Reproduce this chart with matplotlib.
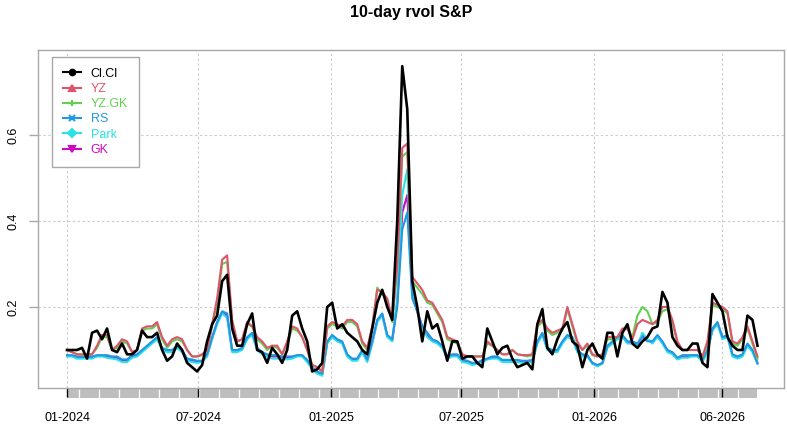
import numpy as np
import matplotlib
matplotlib.use("Agg")
import matplotlib.pyplot as plt
from matplotlib.lines import Line2D
from matplotlib.patches import Rectangle

plt.rcParams['font.family'] = ['Liberation Sans', 'DejaVu Sans']

# weekly samples of the 10-day realized vol estimators
start_date = '2024-01-01'
end_date = '2026-08-17'

cl_cl = [0.10, 0.10, 0.10, 0.105, 0.08, 0.14, 0.145, 0.125, 0.15, 0.10,
         0.095, 0.115, 0.09, 0.09, 0.10, 0.145, 0.13, 0.13, 0.14, 0.10,
         0.075, 0.085, 0.115, 0.10, 0.07, 0.06, 0.05, 0.065, 0.12, 0.16,
         0.18, 0.26, 0.275, 0.15, 0.11, 0.11, 0.16, 0.185, 0.10, 0.095,
         0.07, 0.105, 0.09, 0.07, 0.10, 0.18, 0.19, 0.15, 0.12, 0.05,
         0.055, 0.07, 0.20, 0.21, 0.15, 0.16, 0.14, 0.13, 0.12, 0.10,
         0.09, 0.15, 0.21, 0.24, 0.20, 0.17, 0.40, 0.76, 0.66, 0.26,
         0.20, 0.12, 0.19, 0.15, 0.16, 0.12, 0.075, 0.12, 0.12, 0.08,
         0.085, 0.085, 0.07, 0.06, 0.15, 0.12, 0.09, 0.105, 0.11, 0.08,
         0.06, 0.065, 0.07, 0.055, 0.16, 0.195, 0.105, 0.09, 0.125, 0.15,
         0.165, 0.12, 0.11, 0.06, 0.10, 0.115, 0.09, 0.08, 0.14, 0.14,
         0.085, 0.14, 0.16, 0.115, 0.105, 0.12, 0.13, 0.15, 0.155, 0.235,
         0.21, 0.13, 0.11, 0.10, 0.10, 0.115, 0.115, 0.07, 0.06, 0.23,
         0.21, 0.19, 0.13, 0.11, 0.10, 0.10, 0.18, 0.17, 0.11]

yz = [0.10, 0.095, 0.09, 0.09, 0.09, 0.09, 0.11, 0.135, 0.135, 0.10,
      0.11, 0.125, 0.12, 0.095, 0.10, 0.15, 0.155, 0.155, 0.165, 0.13,
      0.11, 0.125, 0.13, 0.125, 0.10, 0.085, 0.085, 0.09, 0.10, 0.16,
      0.22, 0.31, 0.32, 0.17, 0.12, 0.125, 0.165, 0.155, 0.13, 0.12,
      0.105, 0.11, 0.11, 0.09, 0.12, 0.155, 0.15, 0.13, 0.10, 0.065,
      0.06, 0.05, 0.155, 0.165, 0.16, 0.155, 0.17, 0.17, 0.16, 0.12,
      0.105, 0.155, 0.24, 0.235, 0.22, 0.17, 0.30, 0.57, 0.58, 0.27,
      0.255, 0.24, 0.215, 0.21, 0.19, 0.17, 0.13, 0.125, 0.12, 0.09,
      0.085, 0.085, 0.085, 0.085, 0.12, 0.11, 0.10, 0.09, 0.09, 0.10,
      0.09, 0.088, 0.088, 0.09, 0.16, 0.17, 0.15, 0.14, 0.145, 0.15,
      0.20, 0.16, 0.12, 0.10, 0.115, 0.09, 0.085, 0.09, 0.13, 0.13,
      0.13, 0.15, 0.15, 0.125, 0.16, 0.17, 0.165, 0.16, 0.17, 0.20,
      0.20, 0.17, 0.12, 0.10, 0.10, 0.10, 0.10, 0.085, 0.12, 0.21,
      0.205, 0.20, 0.19, 0.12, 0.115, 0.13, 0.155, 0.12, 0.085]

yz_gk = [0.10, 0.095, 0.09, 0.088, 0.088, 0.09, 0.105, 0.13, 0.13, 0.10,
         0.105, 0.12, 0.115, 0.095, 0.10, 0.145, 0.15, 0.15, 0.16, 0.125,
         0.105, 0.12, 0.125, 0.12, 0.10, 0.085, 0.085, 0.088, 0.10, 0.155,
         0.21, 0.30, 0.305, 0.165, 0.12, 0.125, 0.16, 0.155, 0.125, 0.115,
         0.10, 0.11, 0.105, 0.09, 0.115, 0.15, 0.145, 0.13, 0.10, 0.065,
         0.06, 0.05, 0.15, 0.16, 0.155, 0.15, 0.165, 0.165, 0.155, 0.115,
         0.10, 0.15, 0.245, 0.23, 0.215, 0.165, 0.29, 0.55, 0.56, 0.26,
         0.245, 0.23, 0.21, 0.205, 0.185, 0.165, 0.125, 0.12, 0.115, 0.09,
         0.085, 0.085, 0.085, 0.085, 0.115, 0.11, 0.10, 0.09, 0.09, 0.10,
         0.09, 0.088, 0.085, 0.088, 0.155, 0.165, 0.145, 0.135, 0.14, 0.145,
         0.195, 0.155, 0.115, 0.10, 0.11, 0.088, 0.085, 0.09, 0.125, 0.125,
         0.13, 0.145, 0.15, 0.13, 0.18, 0.20, 0.19, 0.16, 0.165, 0.19,
         0.195, 0.165, 0.115, 0.10, 0.10, 0.10, 0.10, 0.085, 0.115, 0.205,
         0.20, 0.195, 0.185, 0.115, 0.11, 0.125, 0.15, 0.115, 0.08]

rs = [0.088, 0.088, 0.085, 0.085, 0.085, 0.085, 0.088, 0.088, 0.088, 0.085,
      0.085, 0.078, 0.078, 0.088, 0.09, 0.10, 0.11, 0.12, 0.13, 0.105,
      0.10, 0.10, 0.11, 0.10, 0.08, 0.078, 0.075, 0.075, 0.09, 0.13,
      0.165, 0.19, 0.185, 0.10, 0.10, 0.105, 0.13, 0.14, 0.105, 0.095,
      0.09, 0.088, 0.088, 0.085, 0.085, 0.085, 0.088, 0.088, 0.077, 0.06,
      0.05, 0.045, 0.12, 0.135, 0.125, 0.12, 0.09, 0.08, 0.08, 0.10,
      0.078, 0.12, 0.17, 0.185, 0.135, 0.125, 0.20, 0.38, 0.42, 0.22,
      0.19, 0.155, 0.14, 0.125, 0.12, 0.11, 0.085, 0.09, 0.09, 0.078,
      0.075, 0.07, 0.07, 0.077, 0.08, 0.085, 0.085, 0.077, 0.077, 0.077,
      0.077, 0.075, 0.075, 0.077, 0.12, 0.14, 0.105, 0.10, 0.10, 0.12,
      0.135, 0.13, 0.10, 0.09, 0.088, 0.07, 0.065, 0.07, 0.11, 0.12,
      0.13, 0.135, 0.12, 0.12, 0.115, 0.13, 0.12, 0.12, 0.135, 0.12,
      0.10, 0.095, 0.082, 0.088, 0.088, 0.088, 0.088, 0.078, 0.10, 0.15,
      0.165, 0.13, 0.135, 0.09, 0.085, 0.09, 0.115, 0.10, 0.07]

park = [0.085, 0.085, 0.08, 0.08, 0.08, 0.08, 0.085, 0.085, 0.082, 0.08,
        0.078, 0.072, 0.072, 0.082, 0.085, 0.095, 0.105, 0.115, 0.125, 0.10,
        0.095, 0.095, 0.105, 0.095, 0.075, 0.072, 0.07, 0.072, 0.085, 0.125,
        0.16, 0.185, 0.175, 0.095, 0.095, 0.10, 0.125, 0.135, 0.10, 0.09,
        0.085, 0.08, 0.08, 0.08, 0.078, 0.08, 0.085, 0.085, 0.072, 0.055,
        0.045, 0.04, 0.115, 0.13, 0.12, 0.115, 0.085, 0.075, 0.075, 0.095,
        0.072, 0.115, 0.165, 0.18, 0.13, 0.12, 0.22, 0.46, 0.52, 0.24,
        0.19, 0.15, 0.13, 0.12, 0.115, 0.105, 0.08, 0.085, 0.085, 0.072,
        0.07, 0.065, 0.068, 0.072, 0.078, 0.08, 0.08, 0.072, 0.072, 0.072,
        0.072, 0.07, 0.07, 0.072, 0.115, 0.135, 0.10, 0.095, 0.095, 0.115,
        0.13, 0.125, 0.095, 0.085, 0.085, 0.068, 0.062, 0.068, 0.105, 0.115,
        0.125, 0.13, 0.115, 0.115, 0.11, 0.14, 0.125, 0.115, 0.13, 0.115,
        0.095, 0.09, 0.078, 0.082, 0.082, 0.085, 0.085, 0.072, 0.095, 0.145,
        0.16, 0.125, 0.13, 0.085, 0.08, 0.085, 0.11, 0.095, 0.068]

gk = [0.086, 0.086, 0.083, 0.083, 0.083, 0.083, 0.086, 0.086, 0.085, 0.083,
      0.082, 0.075, 0.075, 0.085, 0.088, 0.098, 0.108, 0.118, 0.128, 0.103,
      0.098, 0.098, 0.108, 0.098, 0.078, 0.075, 0.073, 0.074, 0.088, 0.128,
      0.163, 0.188, 0.18, 0.098, 0.098, 0.103, 0.128, 0.138, 0.103, 0.093,
      0.088, 0.085, 0.085, 0.083, 0.082, 0.083, 0.087, 0.087, 0.075, 0.058,
      0.048, 0.043, 0.118, 0.133, 0.123, 0.118, 0.088, 0.078, 0.078, 0.098,
      0.075, 0.118, 0.168, 0.183, 0.133, 0.123, 0.21, 0.42, 0.46, 0.23,
      0.19, 0.153, 0.135, 0.123, 0.118, 0.108, 0.083, 0.088, 0.088, 0.075,
      0.073, 0.068, 0.069, 0.075, 0.079, 0.083, 0.083, 0.075, 0.075, 0.075,
      0.075, 0.073, 0.073, 0.075, 0.118, 0.138, 0.103, 0.098, 0.098, 0.118,
      0.133, 0.128, 0.098, 0.088, 0.087, 0.069, 0.064, 0.069, 0.108, 0.118,
      0.128, 0.133, 0.118, 0.118, 0.113, 0.135, 0.123, 0.118, 0.133, 0.118,
      0.098, 0.093, 0.08, 0.085, 0.085, 0.087, 0.087, 0.075, 0.098, 0.148,
      0.163, 0.128, 0.133, 0.088, 0.083, 0.088, 0.113, 0.098, 0.069]

names = ['Cl.Cl', 'YZ', 'YZ.GK', 'RS', 'Park', 'GK']
colors = ['black', '#DF536B', '#61D04F', '#2297E6', '#28E2E5', '#CD0BBC']
markers = ['o', '^', '+', 'x', 'D', 'v']
tick_dates = ['2024-01-01', '2024-07-01', '2025-01-01', '2025-07-01',
              '2026-01-01', '2026-06-29']
tick_labels = ['01-2024', '07-2024', '01-2025', '07-2025', '01-2026', '06-2026']

series = [cl_cl, yz, yz_gk, rs, park, gk]

# x axis counts trading days
n_days = np.busday_count(start_date, end_date)
day = np.linspace(0, n_days, len(cl_cl))
tick_pos = [np.busday_count(start_date, d) for d in tick_dates]

fig = plt.figure(figsize=(7.87, 4.24), dpi=100)
ax = fig.add_axes([38 / 787, 36 / 424, 746 / 787, 338 / 424])

for i in reversed(range(len(series))):
    lw = 1.9 if i == 0 else 1.5
    ax.plot(day, series[i], color=colors[i], lw=lw, zorder=3 + (len(series) - i))

ax.set_xlim(-28.8, 711.3)
ax.set_ylim(0.0116, 0.7977)

ax.set_xticks(tick_pos)
ax.set_xticklabels(tick_labels)
ax.set_yticks([0.2, 0.4, 0.6])
ax.set_yticklabels(['0.2', '0.4', '0.6'], rotation=90, va='center')

ax.tick_params(axis='x', length=6.5, width=1, color='black', pad=11, labelsize=9)
ax.tick_params(axis='y', length=6.5, width=1, color='#a8a8a8', pad=7, labelsize=9)

ax.grid(True, color='#cccccc', linestyle=(0, (2.2, 2.2)), linewidth=0.8)
for s in ax.spines.values():
    s.set_color('#a8a8a8')
    s.set_linewidth(1)

# grey strip of minor ticks under the axis
trans = ax.get_xaxis_transform()
ax.add_patch(Rectangle((0, -9.5 / 338), n_days, 8.5 / 338, transform=trans,
                       color='#bebebe', clip_on=False, zorder=0.5, lw=0))
gaps = np.arange(12, n_days, 19.8)
ax.vlines(gaps, -9.5 / 338, -1 / 338, transform=trans, color='white',
          lw=0.9, clip_on=False, zorder=0.6)

handles = [Line2D([], [], color=c, lw=1.5, marker=m, markersize=4,
                  markerfacecolor=c, markeredgewidth=1.5)
           for c, m in zip(colors, markers)]
leg = ax.legend(handles, names, loc='upper left', bbox_to_anchor=(0.0188, 0.979),
                borderaxespad=0, fontsize=9, frameon=True, fancybox=False,
                edgecolor='#a8a8a8', framealpha=1, handlelength=1.5,
                handletextpad=0.75, labelspacing=0.26, borderpad=0.85,
                labelcolor=colors)
leg.get_frame().set_linewidth(1)
leg.set_zorder(20)

fig.text(411 / 787, 1 - 13 / 424, '10-day rvol S&P', ha='center', va='center',
         fontsize=11.5, fontweight='bold')

fig.savefig('out.png', dpi=100)
